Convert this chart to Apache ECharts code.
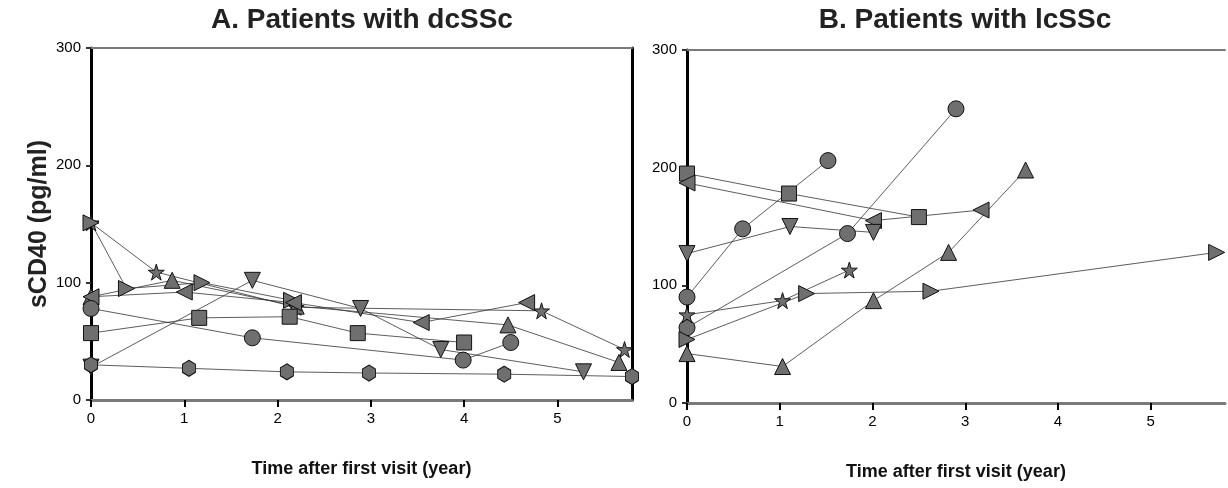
<!DOCTYPE html>
<html lang="en">
<head>
    <meta charset="utf-8">
    <title>sCD40 follow-up</title>
    <script src="https://cdn.jsdelivr.net/npm/echarts@6/dist/echarts.min.js"></script>
    <style>
        html, body { margin: 0; padding: 0; background: #fff; }
    </style>
</head>
<body>

<div id="main" style="width: 1228px;height:488px;"></div>

<script>
    // tick labels
    var xTicks = [0, 1, 2, 3, 4, 5];
    var yTicks = [0, 100, 200, 300];

    // A. dcSSc patients  [year, pg/ml]
    var aStar     = [[0, 151], [0.70, 109], [2.2, 79], [4.83, 76], [5.72, 43]];
    var aTriRight = [[0, 151], [0.38, 95], [1.19, 100], [2.15, 85]];
    var aTriUp    = [[0, 88], [0.87, 102], [2.2, 80], [4.47, 64], [5.66, 32]];
    var aTriLeft  = [[0, 88], [1.0, 92], [2.17, 83], [3.54, 66], [4.67, 83]];
    var aTriDown  = [[0, 28], [1.73, 102], [2.89, 78], [3.75, 43], [5.28, 24]];
    var aSquare   = [[0, 57], [1.16, 70], [2.13, 71], [2.86, 57], [4.0, 49]];
    var aCircle   = [[0, 78], [1.73, 53], [3.99, 34], [4.5, 49]];
    var aHexagon  = [[0, 30], [1.05, 27], [2.1, 24], [2.98, 23], [4.43, 22], [5.8, 20]];

    // B. lcSSc patients
    var bSquare   = [[0, 195], [1.1, 178], [2.5, 158]];
    var bTriLeft  = [[0, 187], [2.01, 155], [3.17, 164]];
    var bCircle1  = [[0, 90], [0.6, 148], [1.52, 206]];
    var bCircle2  = [[0, 64], [1.73, 144], [2.9, 250]];
    var bTriDown  = [[0, 127], [1.11, 150], [2.01, 145]];
    var bStar     = [[0, 75], [1.03, 87], [1.75, 113]];
    var bTriRight = [[0, 54], [1.29, 93], [2.63, 95], [5.71, 128]];
    var bTriUp    = [[0, 42], [1.03, 31], [2.01, 87], [2.82, 128], [3.65, 198]];

    var shapes = {
        star: 'path://M50,0 L61,35 L98,35 L68,57 L79,91 L50,70 L21,91 L32,57 L2,35 L39,35 Z',
        triUp: 'triangle',
        triDown: 'path://M0,0 L100,0 L50,90 Z',
        triLeft: 'path://M0,50 L90,0 L90,100 Z',
        triRight: 'path://M0,0 L90,50 L0,100 Z',
        square: 'rect',
        circle: 'circle',
        hexagon: 'path://M50,0 L95,25 L95,75 L50,100 L5,75 L5,25 Z'
    };
    var sizes = {
        star: 16, triUp: 16, triDown: 16, triLeft: 16, triRight: 16,
        square: 15, circle: 16, hexagon: [13, 16]
    };

    function line(idx, shape, data) {
        return {
            type: 'line',
            xAxisIndex: idx,
            yAxisIndex: idx,
            data: data,
            symbol: shapes[shape],
            symbolSize: sizes[shape],
            showAllSymbol: true,
            lineStyle: {color: '#333', width: 0.8},
            itemStyle: {color: '#6f6f6f', borderColor: '#111', borderWidth: 1},
            z: 3
        };
    }

    var font = 'Liberation Sans, Arial, Helvetica, sans-serif';

    function xAxis(gridIdx, pos) {
        var main = pos === 'bottom';
        return {
            type: 'value',
            gridIndex: gridIdx,
            position: pos,
            min: 0, max: 5.8,
            splitLine: {show: false},
            axisLine: {onZero: false, lineStyle: {color: '#7a7a7a', width: main ? 3 : 2}},
            axisTick: {show: main, inside: false, length: 7,
                lineStyle: {color: '#000', width: 2}, customValues: xTicks},
            axisLabel: {show: main, customValues: xTicks, color: '#000',
                fontSize: 15, fontFamily: font, margin: 11},
            name: main ? 'Time after first visit (year)' : '',
            nameLocation: 'middle',
            nameGap: 60,
            nameTextStyle: {fontSize: 18, fontWeight: 'bold', color: '#111', fontFamily: font}
        };
    }

    function yAxis(gridIdx, pos, withName) {
        var main = pos === 'left';
        return {
            type: 'value',
            gridIndex: gridIdx,
            position: pos,
            min: 0, max: 300, interval: 100,
            splitLine: {show: false},
            axisLine: {onZero: false, lineStyle: {color: '#000', width: 3}},
            axisTick: {show: main, length: 5, lineStyle: {color: '#333', width: 2}},
            axisLabel: {show: main, customValues: yTicks, color: '#000',
                fontSize: 15, fontFamily: font, margin: 10},
            name: withName ? 'sCD40 (pg/ml)' : '',
            nameLocation: 'middle',
            nameGap: 38,
            nameRotate: 90,
            nameTextStyle: {fontSize: 25, fontWeight: 'bold', color: '#222', fontFamily: font}
        };
    }

    var myChart = echarts.init(document.getElementById('main'));

    var option = {
        animation: false,
        backgroundColor: '#fff',
        title: [
            {text: 'A. Patients with dcSSc', left: 357, top: 1, textAlign: 'center',
                textStyle: {fontSize: 28, fontWeight: 'bold', color: '#222', fontFamily: font}},
            {text: 'B. Patients with lcSSc', left: 960, top: 1, textAlign: 'center',
                textStyle: {fontSize: 28, fontWeight: 'bold', color: '#222', fontFamily: font}}
        ],
        grid: [
            {left: 91, top: 48, width: 541, height: 352},
            {left: 687, top: 50, width: 538, height: 353}
        ],
        xAxis: [xAxis(0, 'bottom'), xAxis(1, 'bottom'), xAxis(0, 'top'), xAxis(1, 'top')],
        yAxis: [yAxis(0, 'left', true), yAxis(1, 'left', false), yAxis(0, 'right', false)],
        series: [
            line(0, 'star', aStar),
            line(0, 'triRight', aTriRight),
            line(0, 'triUp', aTriUp),
            line(0, 'triLeft', aTriLeft),
            line(0, 'triDown', aTriDown),
            line(0, 'square', aSquare),
            line(0, 'circle', aCircle),
            line(0, 'hexagon', aHexagon),
            line(1, 'square', bSquare),
            line(1, 'triLeft', bTriLeft),
            line(1, 'circle', bCircle1),
            line(1, 'circle', bCircle2),
            line(1, 'triDown', bTriDown),
            line(1, 'star', bStar),
            line(1, 'triRight', bTriRight),
            line(1, 'triUp', bTriUp)
        ]
    };

    myChart.setOption(option);
</script>
</body>
</html>
